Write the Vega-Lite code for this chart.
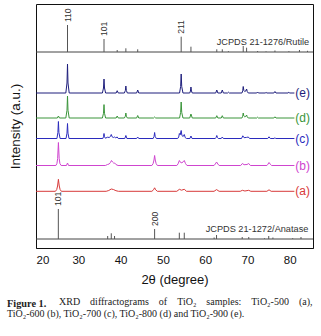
{
  "$schema": "https://vega.github.io/schema/vega-lite/v6.json",
  "width": 277,
  "height": 244,
  "autosize": {"type": "none"},
  "padding": {"left": 36, "top": 4, "right": 8, "bottom": 88},
  "background": "white",
  "config": {"view": {"stroke": "#111", "strokeWidth": 1}},
  "title": {
    "text": "Figure 1.",
    "subtitle": ["\u200b\u2003\u2003\u2003\u2003\u2003\u2009XRD\u2003diffractograms\u2003of\u2003TiO\u2082\u2003samples:\u2003TiO\u2082-500\u2003(a),", "TiO\u2082-600 (b), TiO\u2082-700 (c), TiO\u2082-800 (d) and TiO\u2082-900 (e)."],
    "orient": "bottom",
    "anchor": "start",
    "frame": "group",
    "dx": -29,
    "offset": 12,
    "font": "Liberation Serif",
    "fontSize": 10.3,
    "fontWeight": "bold",
    "color": "#222",
    "subtitleFont": "Liberation Serif",
    "subtitleFontSize": 10,
    "subtitleColor": "#222",
    "subtitlePadding": -12,
    "subtitleLineHeight": 12.6
  },
  "datasets": {
    "curves": [
      {"s":"e","x":20,"y":155},{"s":"e","x":27.05,"y":155},{"s":"e","x":27.33,"y":165},{"s":"e","x":27.45,"y":184},{"s":"e","x":27.57,"y":165},{"s":"e","x":27.85,"y":155},
      {"s":"e","x":35.7,"y":155},{"s":"e","x":35.96,"y":160},{"s":"e","x":36.08,"y":169},{"s":"e","x":36.2,"y":160},{"s":"e","x":36.46,"y":155},
      {"s":"e","x":38.95,"y":155},{"s":"e","x":39.2,"y":157.3},{"s":"e","x":39.45,"y":155},
      {"s":"e","x":40.9,"y":155},{"s":"e","x":41.13,"y":157.5},{"s":"e","x":41.25,"y":162},{"s":"e","x":41.37,"y":157.5},{"s":"e","x":41.6,"y":155},
      {"s":"e","x":43.8,"y":155},{"s":"e","x":44.05,"y":158},{"s":"e","x":44.3,"y":155},
      {"s":"e","x":53.95,"y":155},{"s":"e","x":54.2,"y":161.5},{"s":"e","x":54.33,"y":174},{"s":"e","x":54.46,"y":161.5},{"s":"e","x":54.75,"y":155},
      {"s":"e","x":56.35,"y":155},{"s":"e","x":56.52,"y":157},{"s":"e","x":56.64,"y":161},{"s":"e","x":56.76,"y":157},{"s":"e","x":56.95,"y":155},
      {"s":"e","x":62.5,"y":155},{"s":"e","x":62.75,"y":158},{"s":"e","x":63.0,"y":155},
      {"s":"e","x":63.8,"y":155},{"s":"e","x":64.05,"y":158},{"s":"e","x":64.3,"y":155},
      {"s":"e","x":65.3,"y":155},{"s":"e","x":65.5,"y":155.8},{"s":"e","x":65.7,"y":155},
      {"s":"e","x":68.7,"y":155},{"s":"e","x":68.88,"y":157.2},{"s":"e","x":69.0,"y":161.5},{"s":"e","x":69.15,"y":157.5},{"s":"e","x":69.35,"y":156.5},{"s":"e","x":69.6,"y":157},{"s":"e","x":69.8,"y":159},{"s":"e","x":69.95,"y":156.5},{"s":"e","x":70.2,"y":155},
      {"s":"e","x":72.2,"y":155},{"s":"e","x":72.4,"y":156},{"s":"e","x":72.6,"y":155},
      {"s":"e","x":74.2,"y":155},{"s":"e","x":74.4,"y":155.6},{"s":"e","x":74.6,"y":155},
      {"s":"e","x":76.25,"y":155},{"s":"e","x":76.5,"y":156.5},{"s":"e","x":76.75,"y":155},
      {"s":"e","x":79.6,"y":155},{"s":"e","x":79.8,"y":155.8},{"s":"e","x":80.0,"y":155},
      {"s":"e","x":81.1,"y":155},

      {"s":"d","x":20,"y":130},{"s":"d","x":25.05,"y":130},{"s":"d","x":25.3,"y":132},{"s":"d","x":25.55,"y":130},
      {"s":"d","x":27.05,"y":130},{"s":"d","x":27.33,"y":137.7},{"s":"d","x":27.45,"y":152},{"s":"d","x":27.57,"y":137.7},{"s":"d","x":27.85,"y":130},
      {"s":"d","x":35.7,"y":130},{"s":"d","x":35.96,"y":134.7},{"s":"d","x":36.08,"y":143.4},{"s":"d","x":36.2,"y":134.7},{"s":"d","x":36.46,"y":130},
      {"s":"d","x":38.95,"y":130},{"s":"d","x":39.2,"y":132},{"s":"d","x":39.45,"y":130},
      {"s":"d","x":40.9,"y":130},{"s":"d","x":41.13,"y":131.8},{"s":"d","x":41.25,"y":135},{"s":"d","x":41.37,"y":131.8},{"s":"d","x":41.6,"y":130},
      {"s":"d","x":43.8,"y":130},{"s":"d","x":44.05,"y":132.5},{"s":"d","x":44.3,"y":130},
      {"s":"d","x":47.8,"y":130},{"s":"d","x":48.05,"y":131},{"s":"d","x":48.3,"y":130},
      {"s":"d","x":53.95,"y":130},{"s":"d","x":54.2,"y":135.6},{"s":"d","x":54.33,"y":146},{"s":"d","x":54.46,"y":135.6},{"s":"d","x":54.75,"y":130},
      {"s":"d","x":56.35,"y":130},{"s":"d","x":56.64,"y":134},{"s":"d","x":56.95,"y":130},
      {"s":"d","x":62.5,"y":130},{"s":"d","x":62.75,"y":132.3},{"s":"d","x":63.0,"y":130},
      {"s":"d","x":63.8,"y":130},{"s":"d","x":64.05,"y":132.3},{"s":"d","x":64.3,"y":130},
      {"s":"d","x":68.7,"y":130},{"s":"d","x":68.88,"y":131.8},{"s":"d","x":69.0,"y":135},{"s":"d","x":69.15,"y":132},{"s":"d","x":69.35,"y":131.2},{"s":"d","x":69.6,"y":131.5},{"s":"d","x":69.8,"y":133},{"s":"d","x":69.95,"y":131.2},{"s":"d","x":70.2,"y":130},
      {"s":"d","x":72.2,"y":130},{"s":"d","x":72.4,"y":130.8},{"s":"d","x":72.6,"y":130},
      {"s":"d","x":76.25,"y":130},{"s":"d","x":76.5,"y":131.2},{"s":"d","x":76.75,"y":130},
      {"s":"d","x":81.1,"y":130},

      {"s":"c","x":20,"y":109.5},{"s":"c","x":24.95,"y":109.5},{"s":"c","x":25.18,"y":115.5},{"s":"c","x":25.3,"y":126.5},{"s":"c","x":25.42,"y":115.5},{"s":"c","x":25.7,"y":109.5},
      {"s":"c","x":27.1,"y":109.5},{"s":"c","x":27.33,"y":114.8},{"s":"c","x":27.45,"y":124.5},{"s":"c","x":27.57,"y":114.8},{"s":"c","x":27.8,"y":109.5},
      {"s":"c","x":35.8,"y":109.5},{"s":"c","x":35.96,"y":111.3},{"s":"c","x":36.08,"y":114.5},{"s":"c","x":36.2,"y":111.3},{"s":"c","x":36.4,"y":109.8},
      {"s":"c","x":36.95,"y":110.8},{"s":"c","x":37.3,"y":110.5},{"s":"c","x":37.6,"y":111.5},{"s":"c","x":37.8,"y":113.5},{"s":"c","x":38.0,"y":111.2},{"s":"c","x":38.3,"y":110.5},{"s":"c","x":38.57,"y":111},{"s":"c","x":38.85,"y":110.2},{"s":"c","x":39.2,"y":111},{"s":"c","x":39.45,"y":109.5},
      {"s":"c","x":41.0,"y":109.5},{"s":"c","x":41.25,"y":112.5},{"s":"c","x":41.5,"y":109.5},
      {"s":"c","x":43.8,"y":109.5},{"s":"c","x":44.05,"y":111},{"s":"c","x":44.3,"y":109.5},
      {"s":"c","x":47.7,"y":109.5},{"s":"c","x":47.92,"y":111.6},{"s":"c","x":48.05,"y":115.5},{"s":"c","x":48.18,"y":111.6},{"s":"c","x":48.45,"y":109.5},
      {"s":"c","x":53.5,"y":109.5},{"s":"c","x":53.75,"y":111},{"s":"c","x":53.9,"y":114.5},{"s":"c","x":54.1,"y":113.2},{"s":"c","x":54.33,"y":117.5},{"s":"c","x":54.5,"y":112.5},{"s":"c","x":54.8,"y":111.5},{"s":"c","x":55.06,"y":113.5},{"s":"c","x":55.3,"y":110.3},{"s":"c","x":55.6,"y":109.5},
      {"s":"c","x":56.4,"y":109.5},{"s":"c","x":56.64,"y":112},{"s":"c","x":56.9,"y":109.5},
      {"s":"c","x":62.4,"y":109.5},{"s":"c","x":62.6,"y":110.6},{"s":"c","x":62.75,"y":112.5},{"s":"c","x":62.9,"y":110.6},{"s":"c","x":63.1,"y":109.5},
      {"s":"c","x":63.8,"y":109.5},{"s":"c","x":64.05,"y":111},{"s":"c","x":64.3,"y":109.5},
      {"s":"c","x":68.6,"y":109.5},{"s":"c","x":68.9,"y":112.2},{"s":"c","x":69.2,"y":110.3},{"s":"c","x":69.8,"y":110.6},{"s":"c","x":70.2,"y":111},{"s":"c","x":70.5,"y":109.5},
      {"s":"c","x":74.8,"y":109.5},{"s":"c","x":75.1,"y":111.2},{"s":"c","x":75.4,"y":109.5},
      {"s":"c","x":76.3,"y":109.5},{"s":"c","x":76.5,"y":110.3},{"s":"c","x":76.7,"y":109.5},
      {"s":"c","x":81.1,"y":109.5},

      {"s":"b","x":20,"y":82.5},{"s":"b","x":24.7,"y":82.5},{"s":"b","x":24.95,"y":84.5},{"s":"b","x":25.12,"y":89.5},{"s":"b","x":25.3,"y":105.5},{"s":"b","x":25.48,"y":89.5},{"s":"b","x":25.65,"y":84.5},{"s":"b","x":25.95,"y":82.5},
      {"s":"b","x":27.2,"y":82.5},{"s":"b","x":27.45,"y":85},{"s":"b","x":27.7,"y":82.5},
      {"s":"b","x":36.4,"y":82.5},{"s":"b","x":36.9,"y":83.5},{"s":"b","x":37.3,"y":84},{"s":"b","x":37.6,"y":85.5},{"s":"b","x":37.85,"y":87.5},{"s":"b","x":38.1,"y":86},{"s":"b","x":38.35,"y":85},{"s":"b","x":38.6,"y":85},{"s":"b","x":38.9,"y":83.5},{"s":"b","x":39.4,"y":82.5},
      {"s":"b","x":47.4,"y":82.5},{"s":"b","x":47.7,"y":84.5},{"s":"b","x":47.9,"y":88},{"s":"b","x":48.05,"y":92.5},{"s":"b","x":48.2,"y":88},{"s":"b","x":48.4,"y":84.5},{"s":"b","x":48.7,"y":82.5},
      {"s":"b","x":53.3,"y":82.5},{"s":"b","x":53.6,"y":84.2},{"s":"b","x":53.9,"y":87.5},{"s":"b","x":54.2,"y":85.5},{"s":"b","x":54.5,"y":85.2},{"s":"b","x":54.8,"y":86.2},{"s":"b","x":55.06,"y":87.5},{"s":"b","x":55.35,"y":84.5},{"s":"b","x":55.7,"y":82.5},
      {"s":"b","x":62.1,"y":82.5},{"s":"b","x":62.4,"y":84},{"s":"b","x":62.7,"y":86},{"s":"b","x":63.0,"y":84},{"s":"b","x":63.3,"y":82.5},
      {"s":"b","x":68.4,"y":82.5},{"s":"b","x":68.8,"y":84.5},{"s":"b","x":69.2,"y":83.3},{"s":"b","x":69.9,"y":83.5},{"s":"b","x":70.3,"y":84.5},{"s":"b","x":70.7,"y":82.5},
      {"s":"b","x":74.6,"y":82.5},{"s":"b","x":74.85,"y":83.8},{"s":"b","x":75.1,"y":85.5},{"s":"b","x":75.4,"y":83.8},{"s":"b","x":75.7,"y":82.5},
      {"s":"b","x":81.1,"y":82.5},

      {"s":"a","x":20,"y":56.7},{"s":"a","x":24.6,"y":56.7},{"s":"a","x":24.9,"y":58.5},{"s":"a","x":25.1,"y":62},{"s":"a","x":25.3,"y":68.7},{"s":"a","x":25.5,"y":62},{"s":"a","x":25.7,"y":58.5},{"s":"a","x":26.0,"y":56.7},
      {"s":"a","x":36.6,"y":56.7},{"s":"a","x":37.2,"y":57.5},{"s":"a","x":37.8,"y":59},{"s":"a","x":38.3,"y":58.5},{"s":"a","x":38.9,"y":57.3},{"s":"a","x":39.5,"y":56.7},
      {"s":"a","x":47.4,"y":56.7},{"s":"a","x":47.8,"y":58.2},{"s":"a","x":48.05,"y":60.2},{"s":"a","x":48.3,"y":58.2},{"s":"a","x":48.7,"y":56.7},
      {"s":"a","x":53.3,"y":56.7},{"s":"a","x":53.9,"y":58.7},{"s":"a","x":54.4,"y":57.8},{"s":"a","x":55.06,"y":58.7},{"s":"a","x":55.6,"y":56.7},
      {"s":"a","x":62.1,"y":56.7},{"s":"a","x":62.7,"y":58.4},{"s":"a","x":63.3,"y":56.7},
      {"s":"a","x":68.3,"y":56.7},{"s":"a","x":68.8,"y":57.7},{"s":"a","x":69.4,"y":57},{"s":"a","x":70.3,"y":57.7},{"s":"a","x":70.8,"y":56.7},
      {"s":"a","x":74.6,"y":56.7},{"s":"a","x":75.1,"y":58.2},{"s":"a","x":75.6,"y":56.7},
      {"s":"a","x":81.1,"y":56.7}
    ],
    "hlines": [
      {"g":"rutile","x":20,"y":196},{"g":"rutile","x":85.5,"y":196},
      {"g":"anatase","x":20,"y":9},{"g":"anatase","x":85.5,"y":9}
    ],
    "sticks": [
      {"x":27.45,"y":196,"y2":223},{"x":36.08,"y":196,"y2":209},{"x":39.2,"y":196,"y2":198},{"x":41.25,"y":196,"y2":199.7},
      {"x":44.05,"y":196,"y2":198.7},{"x":54.33,"y":196,"y2":211.3},{"x":56.64,"y":196,"y2":201.3},{"x":62.75,"y":196,"y2":198.7},
      {"x":64.05,"y":196,"y2":198.7},{"x":65.5,"y":196,"y2":196.8},{"x":69.0,"y":196,"y2":202},{"x":69.8,"y":196,"y2":200.3},
      {"x":72.4,"y":196,"y2":197},{"x":74.4,"y":196,"y2":196.6},{"x":76.5,"y":196,"y2":197.5},{"x":79.8,"y":196,"y2":196.8},
      {"x":82.3,"y":196,"y2":198},{"x":84.2,"y":196,"y2":197.2},
      {"x":25.28,"y":9,"y2":39},{"x":36.95,"y":9,"y2":12},{"x":37.8,"y":9,"y2":14.7},{"x":38.57,"y":9,"y2":12},
      {"x":48.05,"y":9,"y2":19},{"x":53.89,"y":9,"y2":15.3},{"x":55.06,"y":9,"y2":15.3},{"x":62.12,"y":9,"y2":10.5},
      {"x":62.69,"y":9,"y2":13},{"x":68.76,"y":9,"y2":11},{"x":70.31,"y":9,"y2":11},{"x":74.03,"y":9,"y2":9.7},
      {"x":75.03,"y":9,"y2":12},{"x":76.02,"y":9,"y2":10.5},{"x":80.7,"y":9,"y2":9.8},{"x":82.66,"y":9,"y2":11}
    ],
    "hkl": [
      {"x":27.45,"y":223,"t":"110"},{"x":36.08,"y":209,"t":"101"},{"x":54.33,"y":211.3,"t":"211"},
      {"x":25.28,"y":39,"t":"101"},{"x":48.05,"y":19,"t":"200"}
    ],
    "refs": [
      {"x":84.6,"y":206,"t":"JCPDS 21-1276/Rutile"},
      {"x":84.4,"y":19,"t":"JCPDS 21-1272/Anatase"}
    ],
    "series": [
      {"s":"e","x":81.3,"y":155,"t":"(e)"},
      {"s":"d","x":81.3,"y":130,"t":"(d)"},
      {"s":"c","x":81.3,"y":109.5,"t":"(c)"},
      {"s":"b","x":81.3,"y":82.5,"t":"(b)"},
      {"s":"a","x":81.3,"y":57.5,"t":"(a)"}
    ]
  },
  "encoding": {
    "x": {
      "field": "x", "type": "quantitative",
      "scale": {"domain": [20, 85.5], "nice": false, "zero": false},
      "axis": {
        "title": "2\u03b8 (degree)",
        "values": [20, 25, 30, 35, 40, 45, 50, 55, 60, 65, 70, 75, 80],
        "labelExpr": "datum.value % 10 === 0 ? datum.label : ''",
        "grid": false,
        "tickSize": 0,
        "labelPadding": 6,
        "labelFont": "Liberation Sans",
        "labelFontSize": 11.5,
        "labelColor": "#111",
        "titleFont": "Liberation Sans",
        "titleFontSize": 13,
        "titleFontWeight": "normal",
        "titleColor": "#111",
        "titlePadding": 8,
        "domainColor": "#111",
        "tickColor": "#111",
        "encode": {"ticks": {"update": {"y2": {"signal": "datum.value % 10 === 0 ? -5 : -3"}}}}
      }
    },
    "y": {
      "field": "y", "type": "quantitative",
      "scale": {"domain": [0, 244], "nice": false, "zero": false},
      "axis": {
        "title": "Intensity (a.u.)",
        "labels": false, "ticks": false, "domain": false, "grid": false,
        "titleFont": "Liberation Sans",
        "titleFontSize": 13.5,
        "titleFontWeight": "normal",
        "titleColor": "#111",
        "titlePadding": 14
      }
    }
  },
  "layer": [
    {
      "data": {"name": "hlines"},
      "mark": {"type": "line", "color": "#444", "strokeWidth": 1},
      "encoding": {"detail": {"field": "g"}}
    },
    {
      "data": {"name": "sticks"},
      "mark": {"type": "rule", "color": "#555", "strokeWidth": 1},
      "encoding": {"y2": {"field": "y2"}}
    },
    {
      "data": {"name": "curves"},
      "mark": {"type": "line", "strokeWidth": 1},
      "encoding": {
        "color": {"field": "s", "type": "nominal", "legend": null,
          "scale": {"domain": ["a", "b", "c", "d", "e"], "range": ["#d83a3a", "#cf45cf", "#2b2bbd", "#3a953a", "#1e1e7c"]}}
      }
    },
    {
      "data": {"name": "hkl"},
      "mark": {"type": "text", "angle": 270, "align": "left", "baseline": "middle", "dx": 3, "font": "Liberation Sans", "fontSize": 8.5, "color": "#333"},
      "encoding": {"text": {"field": "t"}}
    },
    {
      "data": {"name": "refs"},
      "mark": {"type": "text", "align": "right", "baseline": "middle", "font": "Liberation Sans", "fontSize": 9.2, "color": "#333"},
      "encoding": {"text": {"field": "t"}}
    },
    {
      "data": {"name": "series"},
      "mark": {"type": "text", "align": "left", "baseline": "middle", "font": "Liberation Sans", "fontSize": 12},
      "encoding": {
        "text": {"field": "t"},
        "color": {"field": "s", "type": "nominal", "legend": null}
      }
    }
  ]
}
